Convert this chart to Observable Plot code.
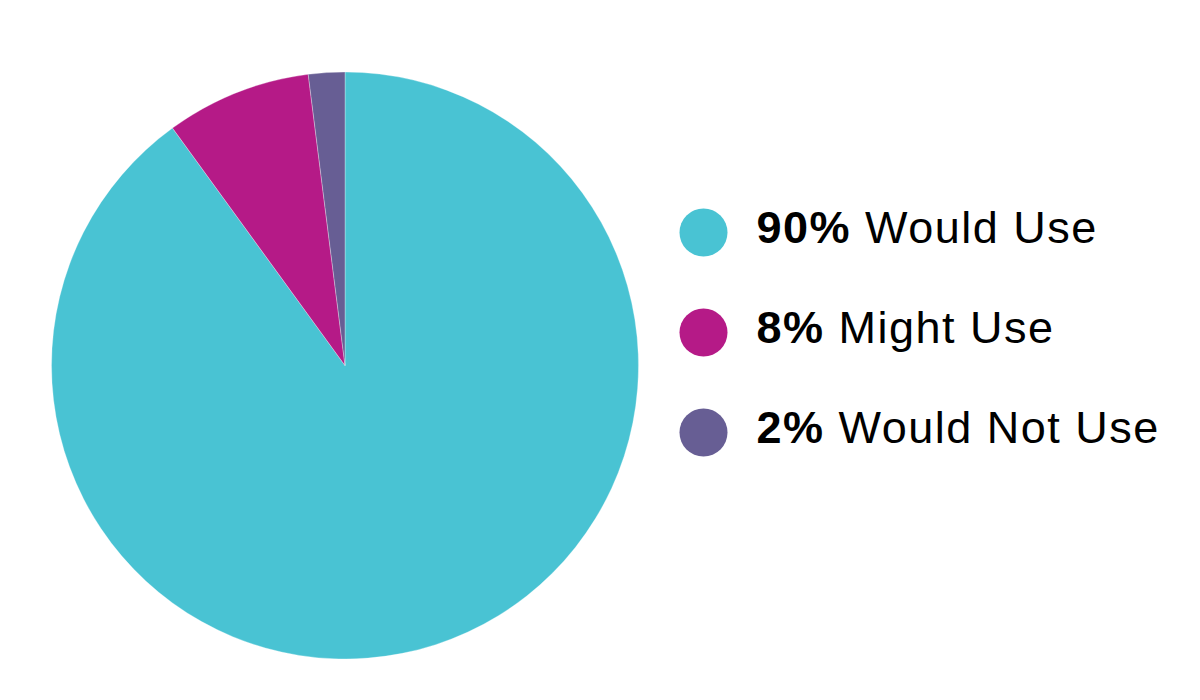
<!DOCTYPE html>
<html><head><meta charset="utf-8">
<script src="https://cdn.jsdelivr.net/npm/d3@7"></script>
<script src="https://cdn.jsdelivr.net/npm/@observablehq/plot@0.6"></script>
<style>body{margin:0;background:#fff}</style>
</head><body><div id="chart"></div>
<script>
const labels = ["Would Use", "Might Use", "Would Not Use"];
const percents = [90, 8, 2];
const colors = ["#49C3D3", "#B51A87", "#675E94"];

const data = labels.map((label, i) => ({label, pct: percents[i]}));

// layout
const W = 1200, H = 700;
const pieCx = 345, pieCy = 365.5, pieR = 293.5;
const legendDotX = 703, legendTextX = 756;
const fontSize = 45;

function pieMark(index, scales) {
  const g = d3.create("svg:g").attr("aria-label", "pie")
    .attr("transform", `translate(${scales.x(pieCx)},${pieCy})`);
  const arcs = d3.pie().sort(null).value(d => d.pct)(data);
  const arc = d3.arc().innerRadius(0).outerRadius(pieR);
  g.selectAll("path").data(arcs).join("path")
    .attr("d", arc)
    .attr("fill", d => scales.color(d.data.label))
    .attr("stroke", "#ffffff")
    .attr("stroke-opacity", 0.5)
    .attr("stroke-width", 0.6);
  return g.node();
}

const chart = Plot.plot({
  width: W, height: H,
  margin: 0,
  style: {background: "#fff", fontFamily: "'Liberation Sans', Arial, sans-serif"},
  x: {domain: [0, W], range: [0, W], axis: null},
  y: {type: "point", domain: labels, range: [232, 432], padding: 0, axis: null},
  color: {domain: labels, range: colors},
  marks: [
    pieMark,
    Plot.dot(data, {x: legendDotX, y: "label", r: 24, fill: "label", stroke: null}),
    Plot.text(data, {
      x: legendTextX, y: "label",
      text: d => `${d.pct}% ${d.label}`,
      textAnchor: "start", fontSize, dy: -4, fill: "#000"
    })
  ]
});

d3.select(chart).selectAll("text").each(function(_, i) {
  const d = data[i];
  if (!d) return;
  const t = d3.select(this).style("letter-spacing", "1.5px");
  t.text(null);
  t.append("tspan").attr("font-weight", "bold").style("font-weight", "bold").text(`${d.pct}%`);
  t.append("tspan").attr("font-weight", "normal").text(` ${d.label}`);
});

document.getElementById("chart").appendChild(chart);
</script>
</body></html>
